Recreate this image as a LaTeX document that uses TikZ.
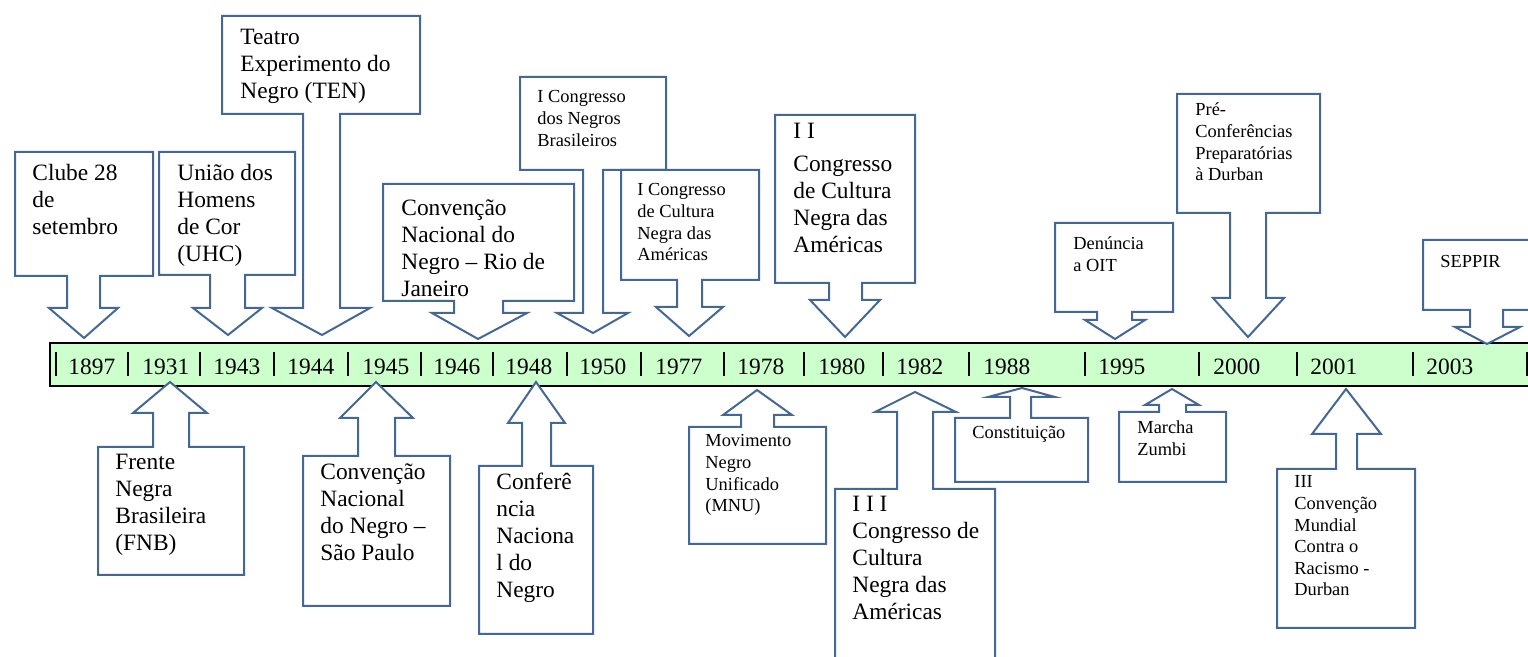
\documentclass[tikz,border=0pt]{standalone}
\usepackage{fontspec}
\setmainfont{Liberation Serif}
\definecolor{boxblue}{RGB}{68,104,150}
\definecolor{bargreen}{RGB}{204,255,204}
\tikzset{
  callout/.style={draw=boxblue, fill=white, line width=1pt, line join=miter},
  bar/.style={draw=black, fill=bargreen, line width=1.1pt},
  tick/.style={draw=black, line width=1pt},
  big/.style={font=\fontsize{11.7}{13.4}\selectfont, inner sep=0pt, anchor=base west},
  small/.style={font=\fontsize{9.2}{10.8}\selectfont, inner sep=0pt, anchor=base west},
  year/.style={font=\fontsize{11.7}{13.4}\selectfont, inner sep=0pt, anchor=base west},
}
\newcommand\lines[1]{\begin{tabular}[t]{@{}l@{}}#1\end{tabular}}
\begin{document}
\begin{tikzpicture}[x=0.5pt,y=-0.5pt]
\useasboundingbox (0,0) rectangle (1528,657);
\clip (0,0) rectangle (1528,657);
% timeline bar
\draw[bar] (50,343) rectangle (1550,386);
\foreach \t in {56,128,200,274,348,421,493,567,641,724,804,883,969,1085,1199,1297,1413,1527}
  {\draw[tick] (\t,352) -- (\t,376);}
\foreach \y/\x in {1897/68,1931/142,1943/213,1944/287,1945/362,1946/433,1948/505,1950/579,1977/655,1978/737,1980/818,1982/896,1988/983,1995/1098,2000/1213,2001/1310,2003/1426}
  {\node[year] (y\y) at (\x,375) {\y};}
% callouts (box + arrow)
\foreach \xa/\xb/\ya/\yb/\sl/\sr/\hb/\wl/\wr/\tx/\ty in {
 15/153/152/276/67/100/308/49/118/84/338,
 159/295/152/275/210/245/308/193/262/228/335,
 222/420/16/114/303/340/308/272/370/322/335,
 383/574/184/301/454/503/313/432/527/478/339,
 520/666/77/170/583/603/313/557/628/593/333,
 621/759/170/280/677/702/307/656/723/689/336,
 775/915/115/283/829/862/300/810/880/845/337,
 1055/1173/223/312/1097/1132/320/1085/1145/1115/339,
 1177/1320/94/213/1230/1266/298/1213/1284/1248/337,
 1423/1545/240/310/1470/1503/327/1455/1520/1487/344,
 98/244/575/447/153/189/413/133/207/170/382,
 303/450/606/456/358/395/418/340/413/376/382,
 479/593/634/466/522/551/423/508/565/536/382,
 689/826/544/427/741/774/415/723/792/757/390,
 835/995/670/489/897/933/412/875/956/915/392,
 955/1088/482/418/1010/1031/397/988/1055/1022/388,
 1119/1226/482/412/1159/1186/405/1145/1199/1172/389,
 1277/1415/628/469/1336/1357/434/1312/1381/1346/389}
{\draw[callout] (\xa,\ya) -- (\xb,\ya) -- (\xb,\yb) -- (\sr,\yb) -- (\sr,\hb) -- (\wr,\hb) -- (\tx,\ty) -- (\wl,\hb) -- (\sl,\hb) -- (\sl,\yb) -- (\xa,\yb) -- cycle;}
% texts above
\node[big] (clube) at (32,181) {\lines{Clube 28\\de\\setembro}};
\node[big] (uniao) at (177,181) {\lines{União dos\\Homens\\de Cor\\(UHC)}};
\node[big] (teatro) at (240,45) {\lines{Teatro\\Experimento do\\Negro (TEN)}};
\node[big] (convrio) at (401,216) {\lines{Convenção\\Nacional do\\Negro – Rio de\\Janeiro}};
\node[small] (brasil) at (537,103) {\lines{I Congresso\\dos Negros\\Brasileiros}};
\node[small] (cultura) at (637,196) {\lines{I Congresso\\de Cultura\\Negra das\\Américas}};
\node[big] (ii) at (793,139) {\lines{I I\\[3pt]Congresso\\de Cultura\\Negra das\\Américas}};
\node[small] (denuncia) at (1073,250) {\lines{Denúncia\\a OIT}};
\node[small] (pre) at (1195,116) {\lines{Pré-\\Conferências\\Preparatórias\\à Durban}};
\node[small] (seppir) at (1440,268) {SEPPIR};
% texts below
\node[big] (frente) at (115,470) {\lines{Frente\\Negra\\Brasileira\\(FNB)}};
\node[big] (convsp) at (320,480) {\lines{Convenção\\Nacional\\do Negro –\\São Paulo}};
\node[big] (confer) at (496,490) {\lines{Conferê\\ncia\\Naciona\\l do\\Negro}};
\node[small] (mnu) at (705,447) {\lines{Movimento\\Negro\\Unificado\\(MNU)}};
\node[big] (iii) at (852,512) {\lines{I I I\\Congresso de\\Cultura\\Negra das\\Américas}};
\node[small] (const) at (972,439) {Constituição};
\node[small] (marcha) at (1137,434) {\lines{Marcha\\Zumbi}};
\node[small] (durban) at (1294,488) {\lines{III\\Convenção\\Mundial\\Contra o\\Racismo -\\Durban}};
\end{tikzpicture}
\end{document}
